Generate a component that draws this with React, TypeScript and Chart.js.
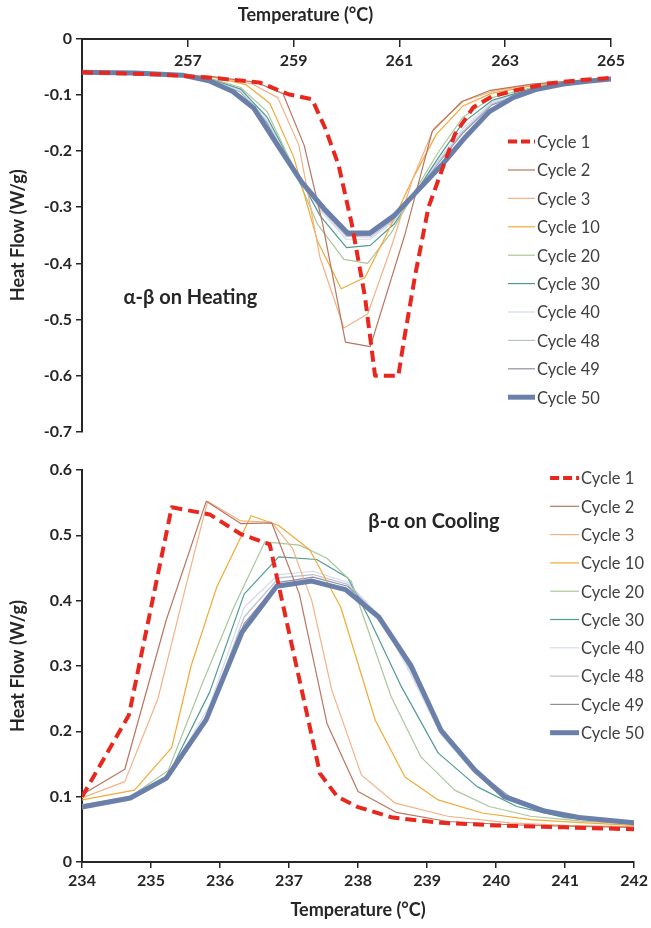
import React, { useEffect, useRef } from "react";
import { Chart, registerables } from "chart.js";

Chart.register(...registerables);

// ---------- labels ----------
const cycleLabels = ["Cycle 1", "Cycle 2", "Cycle 3", "Cycle 10", "Cycle 20", "Cycle 30", "Cycle 40", "Cycle 48", "Cycle 49", "Cycle 50"];
const heatTicksLabelled = [257, 259, 261, 263, 265];

// ---------- heating (alpha-beta), temperature °C / heat flow W/g ----------
const heatT1 = [255.0, 256.5, 257.5, 258.35, 258.9, 259.35, 259.6, 259.85, 260.1, 260.35, 260.54, 260.98, 261.08, 261.3, 261.55, 261.8, 262.05, 262.4, 262.75, 263.2, 263.8, 264.4, 265.0];
const heatV1 = [-0.06, -0.064, -0.07, -0.078, -0.099, -0.108, -0.16, -0.225, -0.33, -0.46, -0.6, -0.6, -0.54, -0.42, -0.3, -0.235, -0.17, -0.122, -0.103, -0.092, -0.08, -0.074, -0.07];
const heatT2 = [255.0, 256.5, 257.5, 258.3, 258.8, 259.2, 259.55, 259.98, 260.45, 261.1, 261.62, 262.18, 262.72, 263.5, 264.3, 265.0];
const heatV2 = [-0.06, -0.063, -0.068, -0.078, -0.098, -0.19, -0.33, -0.54, -0.548, -0.35, -0.165, -0.112, -0.092, -0.081, -0.075, -0.071];
const heatT3 = [255.0, 256.5, 257.5, 258.2, 258.7, 259.1, 259.5, 259.95, 260.4, 260.85, 261.25, 261.65, 262.2, 262.75, 263.5, 264.3, 265.0];
const heatV3 = [-0.06, -0.063, -0.068, -0.08, -0.105, -0.19, -0.39, -0.515, -0.49, -0.37, -0.25, -0.16, -0.112, -0.094, -0.082, -0.075, -0.071];
const heatT10 = [255.0, 256.5, 257.5, 258.1, 258.55, 259.0, 259.45, 259.9, 260.35, 260.8, 261.25, 261.7, 262.2, 262.75, 263.5, 264.3, 265.0];
const heatV10 = [-0.06, -0.063, -0.069, -0.082, -0.115, -0.21, -0.36, -0.445, -0.425, -0.34, -0.25, -0.17, -0.12, -0.097, -0.084, -0.076, -0.071];
const heatT20 = [255.0, 256.5, 257.4, 258.0, 258.5, 258.95, 259.45, 259.95, 260.4, 260.85, 261.3, 261.75, 262.2, 262.75, 263.5, 264.3, 265.0];
const heatV20 = [-0.06, -0.063, -0.07, -0.087, -0.13, -0.22, -0.33, -0.393, -0.4, -0.345, -0.27, -0.2, -0.14, -0.105, -0.087, -0.078, -0.072];
const heatTLate = [255.0, 256.5, 257.4, 258.0, 258.5, 258.98, 259.5, 260.0, 260.45, 260.9, 261.3, 261.75, 262.2, 262.75, 263.5, 264.3, 265.0];
const heatV30 = [-0.06, -0.063, -0.071, -0.09, -0.14, -0.225, -0.315, -0.372, -0.368, -0.33, -0.275, -0.21, -0.15, -0.11, -0.089, -0.079, -0.072];
const heatV40 = [-0.06, -0.063, -0.072, -0.093, -0.145, -0.228, -0.305, -0.357, -0.357, -0.325, -0.275, -0.215, -0.16, -0.113, -0.09, -0.079, -0.072];
const heatV48 = [-0.06, -0.063, -0.072, -0.094, -0.148, -0.23, -0.302, -0.352, -0.353, -0.322, -0.275, -0.218, -0.165, -0.116, -0.091, -0.08, -0.072];
const heatV49 = [-0.06, -0.063, -0.073, -0.095, -0.15, -0.232, -0.3, -0.35, -0.35, -0.32, -0.275, -0.22, -0.168, -0.118, -0.092, -0.08, -0.072];
const heatT50 = [255.0, 256.0, 256.9, 257.4, 257.85, 258.25, 258.7, 259.15, 259.6, 260.02, 260.44, 260.9, 261.35, 261.8, 262.25, 262.7, 263.15, 263.6, 264.1, 264.55, 265.0];
const heatV50 = [-0.06, -0.061, -0.065, -0.075, -0.094, -0.124, -0.19, -0.255, -0.305, -0.346, -0.346, -0.315, -0.27, -0.225, -0.175, -0.13, -0.105, -0.09, -0.081, -0.076, -0.072];

// ---------- cooling (beta-alpha) ----------
const coolT1 = [234.0, 234.68, 235.3, 235.85, 236.3, 236.72, 237.45, 237.7, 238.0, 238.5, 239.2, 240.0, 241.0, 242.0];
const coolV1 = [0.1, 0.225, 0.543, 0.532, 0.502, 0.486, 0.135, 0.1, 0.084, 0.068, 0.06, 0.056, 0.053, 0.05];
const coolT2 = [234.0, 234.62, 235.22, 235.8, 236.3, 236.75, 237.15, 237.55, 238.0, 238.55, 239.3, 240.2, 241.0, 242.0];
const coolV2 = [0.103, 0.142, 0.37, 0.552, 0.518, 0.519, 0.41, 0.212, 0.108, 0.076, 0.062, 0.057, 0.055, 0.053];
const coolT3 = [234.0, 234.62, 235.1, 235.5, 235.82, 236.3, 236.75, 237.05, 237.33, 237.62, 238.05, 238.54, 239.3, 240.2, 241.0, 242.0];
const coolV3 = [0.098, 0.123, 0.25, 0.42, 0.552, 0.522, 0.52, 0.48, 0.4, 0.263, 0.133, 0.09, 0.07, 0.06, 0.056, 0.054];
const coolT10 = [234.0, 234.76, 235.3, 235.58, 235.95, 236.45, 236.85, 237.3, 237.75, 238.25, 238.68, 239.16, 239.8, 240.5, 241.3, 242.0];
const coolV10 = [0.095, 0.11, 0.175, 0.3, 0.42, 0.53, 0.515, 0.478, 0.39, 0.217, 0.13, 0.095, 0.075, 0.065, 0.06, 0.056];
const coolT20 = [234.0, 234.7, 235.25, 235.75, 236.2, 236.65, 237.15, 237.55, 237.9, 238.48, 238.91, 239.4, 239.9, 240.5, 241.2, 242.0];
const coolV20 = [0.088, 0.1, 0.14, 0.275, 0.39, 0.49, 0.485, 0.465, 0.43, 0.253, 0.161, 0.11, 0.085, 0.07, 0.063, 0.058];
const coolT30 = [234.0, 234.7, 235.25, 235.85, 236.35, 236.85, 237.4, 237.85, 238.15, 238.63, 239.16, 239.73, 240.3, 241.0, 242.0];
const coolV30 = [0.086, 0.099, 0.133, 0.26, 0.41, 0.467, 0.463, 0.435, 0.375, 0.268, 0.167, 0.115, 0.085, 0.068, 0.06];
const coolTLate = [234.0, 234.7, 235.25, 235.85, 236.35, 236.85, 237.35, 237.85, 238.3, 238.75, 239.2, 239.7, 240.2, 240.8, 241.4, 242.0];
const coolV40 = [0.085, 0.098, 0.13, 0.24, 0.39, 0.44, 0.445, 0.428, 0.378, 0.29, 0.195, 0.135, 0.097, 0.075, 0.066, 0.06];
const coolV48 = [0.085, 0.098, 0.129, 0.232, 0.375, 0.435, 0.44, 0.425, 0.378, 0.295, 0.198, 0.138, 0.099, 0.076, 0.066, 0.06];
const coolV49 = [0.084, 0.098, 0.129, 0.225, 0.365, 0.428, 0.436, 0.422, 0.377, 0.297, 0.2, 0.14, 0.1, 0.077, 0.067, 0.06];
const coolT50 = [234.0, 234.7, 235.22, 235.8, 236.32, 236.82, 237.33, 237.82, 238.3, 238.77, 239.2, 239.69, 240.12, 240.7, 241.2, 242.0];
const coolV50 = [0.084, 0.098, 0.128, 0.218, 0.352, 0.422, 0.43, 0.417, 0.375, 0.3, 0.202, 0.141, 0.1, 0.078, 0.068, 0.06];

const heatSeries: [number[], number[]][] = [
  [heatT1, heatV1], [heatT2, heatV2], [heatT3, heatV3], [heatT10, heatV10], [heatT20, heatV20],
  [heatTLate, heatV30], [heatTLate, heatV40], [heatTLate, heatV48], [heatTLate, heatV49], [heatT50, heatV50],
];
const coolSeries: [number[], number[]][] = [
  [coolT1, coolV1], [coolT2, coolV2], [coolT3, coolV3], [coolT10, coolV10], [coolT20, coolV20],
  [coolT30, coolV30], [coolTLate, coolV40], [coolTLate, coolV48], [coolTLate, coolV49], [coolT50, coolV50],
];

// ---------- styles ----------
const cycleColors = ["#E8281E", "#B9755F", "#F4B185", "#F2AA35", "#A9C79B", "#4F9B93", "#D4DBEA", "#BAC0D4", "#908EA7", "#6A7FA9"];
const cycleWidths = [4, 1.2, 1.2, 1.2, 1.2, 1.2, 1.2, 1.2, 1.2, 5];
const cycleOrder = [0, 2, 3, 4, 5, 6, 7, 8, 9, 1];

const FONT = "Lato, 'Open Sans', sans-serif";
const INK = "#262626";

function buildDatasets(series: [number[], number[]][]) {
  return series.map(([xs, ys], i) => ({
    label: cycleLabels[i],
    data: xs.map((x, k) => ({ x, y: ys[k] })),
    showLine: true,
    borderColor: cycleColors[i],
    backgroundColor: cycleColors[i],
    borderWidth: cycleWidths[i],
    borderDash: i === 0 ? [11, 6] : [],
    borderJoinStyle: "round" as const,
    borderCapStyle: i === 0 ? ("butt" as const) : ("round" as const),
    pointRadius: 0,
    pointHoverRadius: 0,
    tension: 0,
    order: cycleOrder[i],
  }));
}

const insideLegend = {
  id: "insideLegend",
  afterDatasetsDraw(chart: any, _args: any, opts: any) {
    const { ctx, chartArea } = chart;
    ctx.save();
    ctx.font = `${opts.size}px ${FONT}`;
    ctx.textBaseline = "middle";
    ctx.textAlign = "left";
    chart.data.datasets.forEach((ds: any, i: number) => {
      const y = chartArea.top + opts.dy + i * opts.rowH;
      const x0 = chartArea.right + opts.dx;
      ctx.beginPath();
      ctx.setLineDash(ds.borderDash && ds.borderDash.length ? [9, 4] : []);
      ctx.strokeStyle = ds.borderColor;
      ctx.lineWidth = ds.borderWidth;
      ctx.lineCap = "butt";
      ctx.moveTo(x0, y);
      ctx.lineTo(x0 + opts.lineLen, y);
      ctx.stroke();
      ctx.setLineDash([]);
      ctx.fillStyle = "#404040";
      ctx.fillText(ds.label, x0 + opts.lineLen + 2, y + 1);
    });
    ctx.restore();
  },
};

const noteText = {
  id: "noteText",
  afterDatasetsDraw(chart: any, _args: any, opts: any) {
    const { ctx, scales } = chart;
    ctx.save();
    ctx.font = `bold 20px ${FONT}`;
    ctx.fillStyle = INK;
    ctx.textAlign = "center";
    ctx.textBaseline = "middle";
    ctx.fillText(opts.text, scales.x.getPixelForValue(opts.x), scales.y.getPixelForValue(opts.y));
    ctx.restore();
  },
};

const tickFont = { family: FONT, size: 16, weight: "bold" as const };
const titleFont = { family: FONT, size: 18, weight: "bold" as const };

function heatConfig(): any {
  return {
    type: "scatter",
    data: { datasets: buildDatasets(heatSeries) },
    plugins: [insideLegend, noteText],
    options: {
      animation: false,
      responsive: true,
      maintainAspectRatio: false,
      events: [],
      layout: { padding: { left: 0, right: 40, top: 0, bottom: 18 } },
      plugins: {
        legend: { display: false },
        tooltip: { enabled: false },
        title: { display: true, text: "Temperature (°C)", font: titleFont, color: INK, padding: { top: 4, bottom: 13 } },
        insideLegend: { dx: -103, dy: 103, rowH: 28.4, lineLen: 27, size: 16.5 },
        noteText: { text: "α-β on Heating", x: 257.05, y: -0.46 },
      },
      scales: {
        x: {
          type: "linear",
          position: { y: 0 },
          min: 255,
          max: 265,
          ticks: {
            stepSize: 2,
            autoSkip: false,
            maxRotation: 0,
            font: tickFont,
            color: INK,
            padding: 6,
            callback: (v: number) => (heatTicksLabelled.includes(v) ? String(v) : ""),
          },
          grid: { drawOnChartArea: false, tickLength: 7, color: INK, lineWidth: 1.5 },
          border: { color: INK, width: 2 },
        },
        y: {
          type: "linear",
          min: -0.7,
          max: 0,
          ticks: { stepSize: 0.1, font: tickFont, color: INK, padding: 4 },
          grid: { drawOnChartArea: false, tickLength: 6, color: INK, lineWidth: 1.5 },
          border: { color: INK, width: 2 },
          title: { display: true, text: "Heat Flow (W/g)", font: titleFont, color: INK, padding: { top: 7, bottom: 0 } },
          afterFit: (s: any) => { s.width = 82; },
        },
      },
    },
  };
}

function coolConfig(): any {
  return {
    type: "scatter",
    data: { datasets: buildDatasets(coolSeries) },
    plugins: [insideLegend, noteText],
    options: {
      animation: false,
      responsive: true,
      maintainAspectRatio: false,
      events: [],
      layout: { padding: { left: 0, right: 14, top: 20, bottom: 0 } },
      plugins: {
        legend: { display: false },
        tooltip: { enabled: false },
        insideLegend: { dx: -84, dy: 8, rowH: 28.3, lineLen: 29, size: 16.5 },
        noteText: { text: "β-α on Cooling", x: 239.1, y: 0.521 },
      },
      scales: {
        x: {
          type: "linear",
          position: "bottom",
          min: 234,
          max: 242,
          ticks: { stepSize: 1, autoSkip: false, maxRotation: 0, font: tickFont, color: INK, padding: 3 },
          grid: { drawOnChartArea: false, tickLength: 6, color: INK, lineWidth: 1.5 },
          border: { color: INK, width: 2 },
          title: { display: true, text: "Temperature (°C)", font: titleFont, color: INK, padding: { top: 0, bottom: 7 } },
          afterFit: (s: any) => { s.height = 66; },
        },
        y: {
          type: "linear",
          min: 0,
          max: 0.6,
          ticks: { stepSize: 0.1, font: tickFont, color: INK, padding: 4 },
          grid: { drawOnChartArea: false, tickLength: 6, color: INK, lineWidth: 1.5 },
          border: { color: INK, width: 2 },
          title: { display: true, text: "Heat Flow (W/g)", font: titleFont, color: INK, padding: { top: 7, bottom: 0 } },
          afterFit: (s: any) => { s.width = 82; },
        },
      },
    },
  };
}

export default function App() {
  const topRef = useRef<HTMLCanvasElement | null>(null);
  const botRef = useRef<HTMLCanvasElement | null>(null);

  useEffect(() => {
    const top = new Chart(topRef.current as HTMLCanvasElement, heatConfig());
    const bot = new Chart(botRef.current as HTMLCanvasElement, coolConfig());
    return () => {
      top.destroy();
      bot.destroy();
    };
  }, []);

  return (
    <div style={{ position: "absolute", left: 0, top: 0, width: 651, height: 928, background: "#fff" }}>
      <div style={{ position: "absolute", left: 0, top: 0, width: 651, height: 450 }}>
        <canvas ref={topRef} />
      </div>
      <div style={{ position: "absolute", left: 0, top: 450, width: 651, height: 478 }}>
        <canvas ref={botRef} />
      </div>
    </div>
  );
}
